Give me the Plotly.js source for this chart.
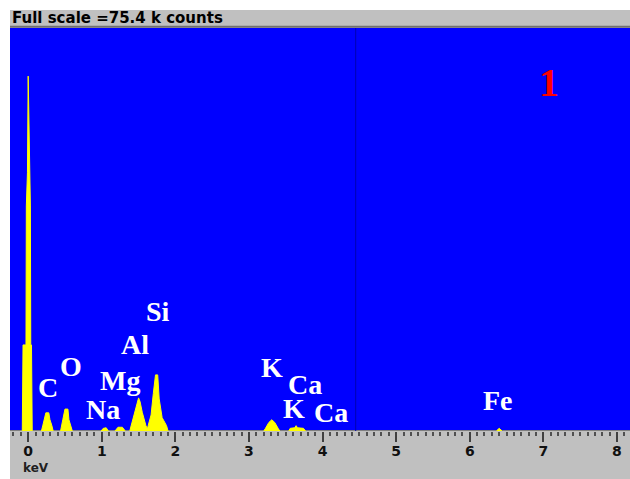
<!DOCTYPE html>
<html>
<head>
<meta charset="utf-8">
<script src="https://cdn.plot.ly/plotly-3.0.1.min.js"></script>
<style>html,body{margin:0;padding:0;background:#fff;}#chart{width:630px;height:479px;}</style>
</head>
<body>
<div id="chart"></div>
<script>
// Spectrum channels (keV) and counts (thousands of counts)
const energyKeV = [-0.247, -0.08, -0.07, -0.03, -0.025, -0.01, 0.0, 0.015, 0.03, 0.035, 0.045, 0.055,
  0.18, 0.20, 0.215, 0.24, 0.28, 0.296, 0.32, 0.34,
  0.44, 0.46, 0.47, 0.50, 0.54, 0.554, 0.58, 0.60,
  0.99, 1.02, 1.06, 1.09,
  1.18, 1.22, 1.28, 1.32,
  1.38, 1.40, 1.45, 1.48, 1.50, 1.52, 1.55, 1.60, 1.62,
  1.63, 1.67, 1.70, 1.73, 1.76, 1.78, 1.82, 1.88, 1.90,
  3.20, 3.22, 3.27, 3.31, 3.35, 3.40, 3.42,
  3.54, 3.56, 3.62, 3.64, 3.66, 3.74, 3.77,
  6.36, 6.40, 6.44,
  8.177];
const countsK = [0, 0, 16.1, 16.1, 42.1, 48.3, 66.4, 48.3, 42.1, 16.1, 16.1, 0,
  0, 1.1, 2.1, 3.4, 3.4, 2.1, 1.1, 0,
  0, 1.1, 2.1, 4.1, 4.1, 2.1, 1.1, 0,
  0, 0.5, 0.6, 0,
  0, 0.7, 0.7, 0,
  0, 1.0, 3.5, 5.5, 6.2, 5.5, 3.5, 1.0, 0.4,
  1.0, 3.0, 7.0, 10.5, 10.5, 6.0, 2.5, 1.0, 0,
  0, 0.4, 1.6, 2.1, 1.6, 0.4, 0,
  0, 0.5, 0.6, 1.0, 0.6, 0.5, 0,
  0, 0.5, 0,
  0];

// Element labels
const labelText = ['C', 'O', 'Na', 'Mg', 'Al', 'Si', 'K', 'Ca', 'K', 'Ca', 'Fe'];
const labelKeV  = [0.27, 0.58, 1.02, 1.25, 1.45, 1.76, 3.31, 3.76, 3.61, 4.11, 6.38];
const labelK    = [8.2, 12.0, 4.1, 9.4, 16.1, 22.3, 11.9, 8.7, 4.2, 3.5, 5.8];

const axisTicks = [0, 1, 2, 3, 4, 5, 6, 7, 8];
const headerText = 'Full scale =75.4 k counts';
const fullScaleK = 75.4;
const cursorKeV = 4.45;
const panelLabel = '1';

const xRange = [-0.247, 8.177];

const annotations = labelText.map((t, i) => ({
  text: t, x: labelKeV[i], y: labelK[i], xref: 'x', yref: 'y',
  showarrow: false, xanchor: 'center', yanchor: 'middle',
  font: {family: 'Liberation Serif, Times New Roman, serif', size: 28, color: '#ffffff', weight: 'bold'}
}));
annotations.push({
  text: panelLabel, x: 7.08, y: 65.2, xref: 'x', yref: 'y', showarrow: false,
  xanchor: 'center', yanchor: 'middle',
  font: {family: 'Liberation Serif, Times New Roman, serif', size: 40, color: '#ff0000', weight: 'bold'}
});
annotations.push({
  text: headerText, x: 0, y: 1.0248, xref: 'paper', yref: 'paper', showarrow: false,
  xanchor: 'left', yanchor: 'middle',
  font: {family: 'DejaVu Sans, sans-serif', size: 15, color: '#000000', weight: 'bold'}
});
annotations.push({
  text: 'keV', x: 0.018, y: -0.092, xref: 'paper', yref: 'paper', showarrow: false,
  xanchor: 'left', yanchor: 'middle',
  font: {family: 'DejaVu Sans, sans-serif', size: 12, color: '#202020', weight: 'bold'}
});

const data = [{
  type: 'scatter', mode: 'lines', x: energyKeV, y: countsK,
  fill: 'tozeroy', fillcolor: '#ffff00',
  line: {color: '#ffff00', width: 1}, hoverinfo: 'skip'
}];

const layout = {
  width: 630, height: 479,
  margin: {l: 10, r: 0, t: 28, b: 48, pad: 0},
  paper_bgcolor: '#ffffff',
  plot_bgcolor: '#0000ff',
  showlegend: false,
  xaxis: {
    range: xRange, showgrid: false, zeroline: false, showline: false,
    tickmode: 'array', tickvals: axisTicks, ticktext: axisTicks.map(String),
    ticks: 'outside', ticklen: 10, tickwidth: 2, tickcolor: '#404040',
    ticklabelstandoff: -3,
    tickfont: {family: 'DejaVu Sans, sans-serif', size: 14, color: '#101010', weight: 'bold'},
    minor: {dtick: 0.1, tick0: 0, ticks: 'outside', ticklen: 4, tickwidth: 2, tickcolor: '#505050', showgrid: false}
  },
  yaxis: {range: [0, fullScaleK], visible: false, fixedrange: true},
  shapes: [
    {type: 'rect', xref: 'paper', yref: 'paper', x0: 0, x1: 1, y0: 1, y1: 1.0447, fillcolor: '#c0c0c0', line: {width: 0}, layer: 'below'},
    {type: 'line', xref: 'paper', yref: 'paper', x0: 0, x1: 1, y0: 1.003, y1: 1.003, line: {color: '#707070', width: 2}},
    {type: 'rect', xref: 'paper', yref: 'paper', x0: 0, x1: 1, y0: -0.12, y1: 0, fillcolor: '#c0c0c0', line: {width: 0}, layer: 'below'},
    {type: 'line', xref: 'x', yref: 'paper', x0: cursorKeV, x1: cursorKeV, y0: 0, y1: 1, line: {color: '#0000b0', width: 1}}
  ],
  annotations: annotations
};

Plotly.newPlot('chart', data, layout, {staticPlot: true, displayModeBar: false});
</script>
</body>
</html>
